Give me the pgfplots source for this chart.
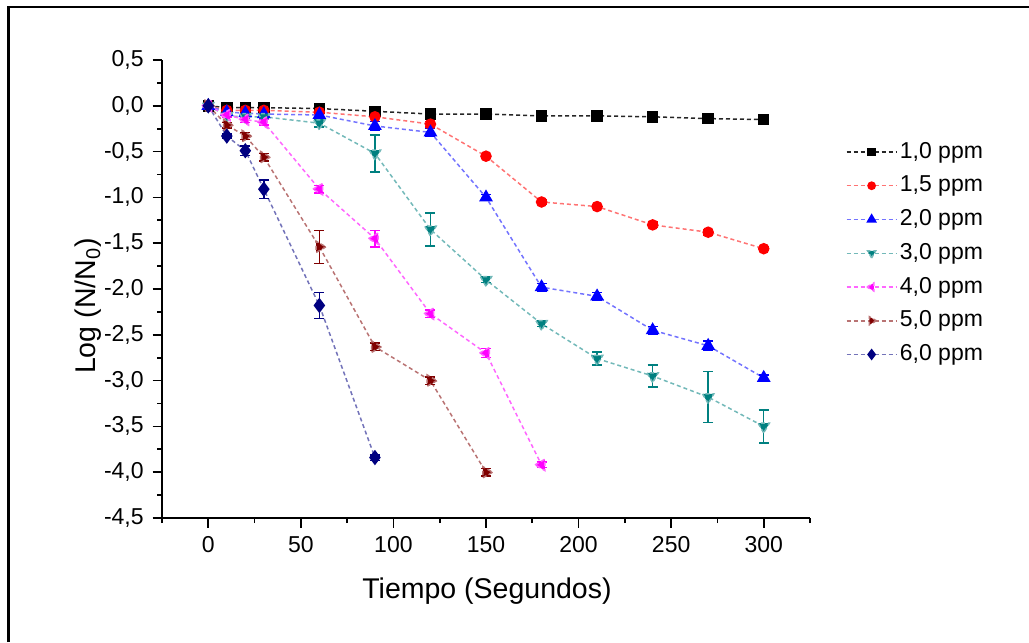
\documentclass[border=0pt]{standalone}
\usepackage{fontspec}
\setmainfont{Liberation Sans}
\usepackage{pgfplots}
\pgfplotsset{compat=1.18}

\definecolor{cTeal}{HTML}{008080}
\definecolor{cMag}{HTML}{FF00FF}
\definecolor{cMaroon}{HTML}{800000}
\definecolor{cNavy}{HTML}{000080}

\pgfplotsset{
  serie/.style 2 args={
    color=#1, draw=#1!#2, line width=0.6pt, dash pattern=on 1.6pt off 1.2pt,
    mark options={solid, fill=#1, draw=#1},
    error bars/y dir=both, error bars/y explicit,
    error bars/error bar style={solid, line width=0.6pt, color=#1},
    error bars/error mark options={rotate=90, mark size=2pt, solid, line width=0.6pt, color=#1},
  },
}

\begin{document}
\begin{tikzpicture}
\useasboundingbox (0,0) rectangle (411.6pt,-256.8pt);
\draw[line width=1.1pt] (3.52pt,-256.8pt) -- (3.52pt,-2.8pt) -- (411.6pt,-2.8pt);
\begin{axis}[
  at={(64.8pt,-207.2pt)}, anchor=south west,
  width=259.2pt, height=183.2pt, scale only axis,
  xmin=-25, xmax=325, ymin=-4.5, ymax=0.5,
  axis x line*=bottom, axis y line*=left,
  axis line style={-, line width=0.8pt},
  tick align=outside,
  major tick length=3.8pt, minor tick length=2pt,
  tick style={line width=0.7pt, black},
  xtick={0,50,...,300}, minor xtick={-25,25,75,...,325},
  ytick={-4.5,-4,...,0.5}, minor ytick={-4.25,-3.75,...,0.25},
  /pgf/number format/assume math mode=true,
  tick label style={font=\fontsize{9.2}{11}\selectfont},
  yticklabel style={/pgf/number format/.cd, use comma, fixed, fixed zerofill, precision=1},
  xlabel={Tiempo (Segundos)},
  ylabel={Log (N/N\textsubscript{0})},
  label style={font=\fontsize{11.4}{13}\selectfont},
  xlabel style={at={(axis description cs:0.5015,-0.159)}, anchor=center},
  ylabel style={at={(axis description cs:-0.114,0.463)}, anchor=center},
  legend style={draw=none, fill=none, at={(axis description cs:1.043,0.848)}, anchor=north west,
    font=\fontsize{9.2}{11}\selectfont, row sep=0pt,
    nodes={inner ysep=0pt, inner xsep=1pt, minimum height=13.5pt}},
  legend cell align=left,
  legend image code/.code={\draw[mark repeat=2,mark phase=2,#1, every mark/.append style={scale=0.72}] plot coordinates {(0pt,0pt)(10pt,0pt)(20pt,0pt)};},
]
\addplot[serie={black}{85}, mark=square*, mark size=2pt] table[x=t, y=v, y error=e] {
t v e
0 0 0
10 -0.02 0.02
20 -0.02 0.02
30 -0.02 0.02
60 -0.03 0.02
90 -0.06 0.02
120 -0.09 0.02
150 -0.09 0.02
180 -0.11 0.02
210 -0.11 0.02
240 -0.12 0.02
270 -0.14 0.03
300 -0.15 0.02
};
\addplot[serie={red}{55}, mark=*, mark size=2pt] table[x=t, y=v, y error=e] {
t v e
0 0 0
10 -0.05 0.02
20 -0.05 0.02
30 -0.05 0.02
60 -0.07 0.02
90 -0.12 0.02
120 -0.20 0.03
150 -0.55 0.02
180 -1.05 0.02
210 -1.10 0.02
240 -1.30 0.03
270 -1.38 0.03
300 -1.56 0.02
};
\addplot[serie={blue}{55}, mark=triangle*, mark size=2.6pt] table[x=t, y=v, y error=e] {
t v e
0 0 0
10 -0.07 0.02
20 -0.08 0.03
30 -0.09 0.03
60 -0.10 0.02
90 -0.22 0.05
120 -0.29 0.04
150 -1.00 0.03
180 -1.98 0.04
210 -2.08 0.04
240 -2.45 0.04
270 -2.62 0.05
300 -2.97 0.03
};
\addplot[serie={cTeal}{55}, mark=triangle*, mark size=2.6pt, mark options={rotate=180}] table[x=t, y=v, y error=e] {
t v e
0 0 0
10 -0.11 0.02
20 -0.12 0.02
30 -0.12 0.02
60 -0.19 0.04
90 -0.52 0.20
120 -1.35 0.18
150 -1.90 0.03
180 -2.38 0.03
210 -2.76 0.07
240 -2.95 0.12
270 -3.18 0.28
300 -3.50 0.18
};
\addplot[serie={cMag}{60}, mark=triangle*, mark size=2.6pt, mark options={rotate=90}] table[x=t, y=v, y error=e] {
t v e
0 0 0
10 -0.10 0.02
20 -0.15 0.03
30 -0.18 0.03
60 -0.91 0.04
90 -1.45 0.09
120 -2.27 0.04
150 -2.70 0.05
180 -3.92 0.03
};
\addplot[serie={cMaroon}{55}, mark=triangle*, mark size=2.6pt, mark options={rotate=-90}] table[x=t, y=v, y error=e] {
t v e
0 0 0
10 -0.21 0.03
20 -0.33 0.04
30 -0.56 0.04
60 -1.54 0.18
90 -2.63 0.04
120 -3.00 0.04
150 -4.00 0.04
};
\addplot[serie={cNavy}{55}, mark=diamond*, mark size=2.6pt] table[x=t, y=v, y error=e] {
t v e
0 0 0
10 -0.33 0.02
20 -0.49 0.05
30 -0.91 0.10
60 -2.18 0.14
90 -3.84 0.03
};
\legend{{1,0 ppm}, {1,5 ppm}, {2,0 ppm}, {3,0 ppm}, {4,0 ppm}, {5,0 ppm}, {6,0 ppm}}
\end{axis}
\end{tikzpicture}
\end{document}
